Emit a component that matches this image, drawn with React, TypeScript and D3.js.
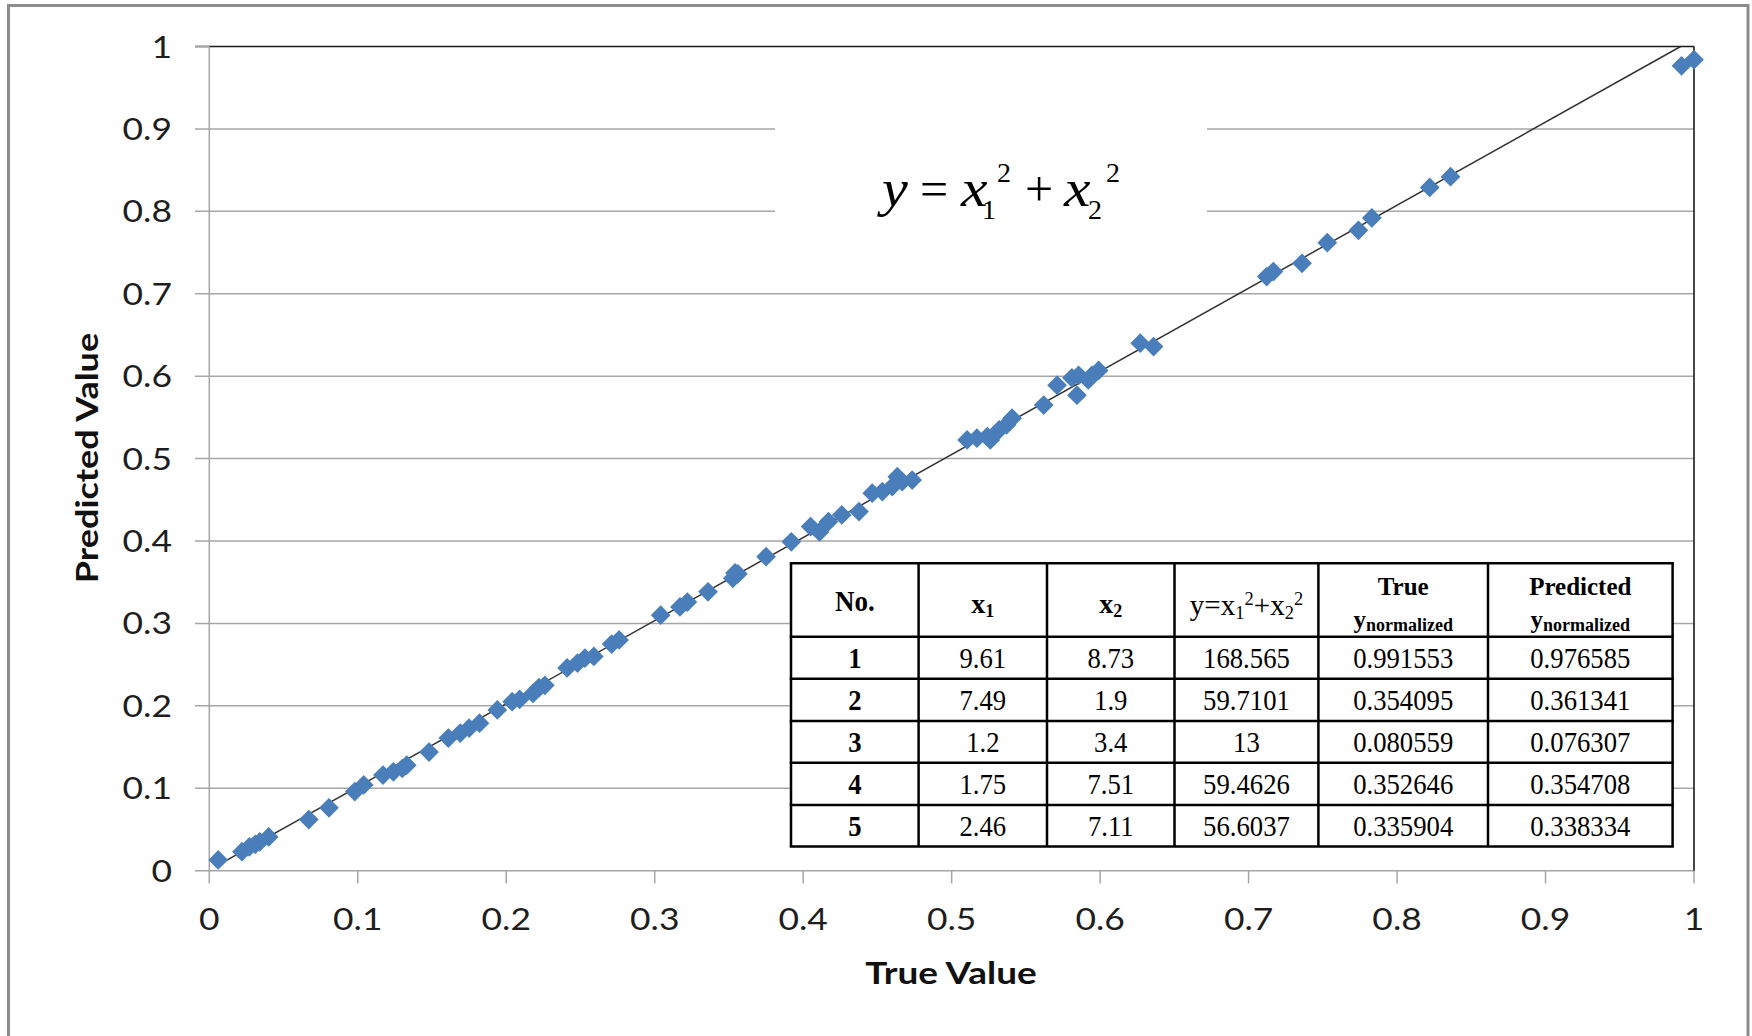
import React from "react";
import * as d3 from "d3";

// ---------- data ----------
const TRUE_VALUES = [
  0.006, 0.022, 0.027, 0.031, 0.034, 0.04, 0.067, 0.0806, 0.098, 0.104,
  0.117, 0.124, 0.13, 0.133, 0.148, 0.161, 0.169, 0.175, 0.182, 0.194,
  0.204, 0.209, 0.218, 0.222, 0.226, 0.241, 0.248, 0.253, 0.259, 0.271,
  0.276, 0.304, 0.317, 0.322, 0.3359, 0.3526, 0.3541, 0.356, 0.375, 0.392,
  0.405, 0.411, 0.417, 0.426, 0.4376, 0.4465, 0.4533, 0.46, 0.4634, 0.4667,
  0.4734, 0.5104, 0.517, 0.524, 0.526, 0.532, 0.537, 0.5407, 0.562, 0.571,
  0.581, 0.5855, 0.5844, 0.592, 0.5945, 0.599, 0.627, 0.636, 0.7122, 0.7167,
  0.736, 0.753, 0.774, 0.783, 0.822, 0.836, 0.9916, 1.0,
];
const PREDICTED_VALUES = [
  0.013, 0.023, 0.029, 0.032, 0.035, 0.041, 0.062, 0.0763, 0.096, 0.104,
  0.116, 0.12, 0.124, 0.128, 0.144, 0.161, 0.167, 0.173, 0.179, 0.195,
  0.205, 0.208, 0.215, 0.222, 0.225, 0.246, 0.252, 0.258, 0.26, 0.275,
  0.28, 0.31, 0.32, 0.326, 0.3383, 0.3547, 0.3613, 0.36, 0.381, 0.399,
  0.4175, 0.411, 0.4235, 0.4317, 0.4357, 0.458, 0.46, 0.466, 0.478, 0.472,
  0.474, 0.5227, 0.5247, 0.5267, 0.5227, 0.535, 0.541, 0.549, 0.565, 0.589,
  0.598, 0.601, 0.577, 0.5955, 0.601, 0.607, 0.64, 0.636, 0.7209, 0.727,
  0.737, 0.762, 0.777, 0.792, 0.829, 0.842, 0.9766, 0.984,
];
const TICK_VALUES = [0, 0.1, 0.2, 0.3, 0.4, 0.5, 0.6, 0.7, 0.8, 0.9, 1];
const TICK_LABELS = ["0", "0.1", "0.2", "0.3", "0.4", "0.5", "0.6", "0.7", "0.8", "0.9", "1"];
const FIT_LINE_X = [0.004, 0.991];
const FIT_LINE_Y = [0.005, 1.0];

const TABLE_NO = ["1", "2", "3", "4", "5"];
const TABLE_X1 = ["9.61", "7.49", "1.2", "1.75", "2.46"];
const TABLE_X2 = ["8.73", "1.9", "3.4", "7.51", "7.11"];
const TABLE_Y = ["168.565", "59.7101", "13", "59.4626", "56.6037"];
const TABLE_TRUE = ["0.991553", "0.354095", "0.080559", "0.352646", "0.335904"];
const TABLE_PRED = ["0.976585", "0.361341", "0.076307", "0.354708", "0.338334"];

// ---------- layout ----------
const W = 1752;
const H = 1036;
const xScale = d3.scaleLinear().domain([0, 1]).range([209.3, 1694]);
const yScale = d3.scaleLinear().domain([0, 1]).range([870.7, 46.5]);

const SANS = "Lato, 'Open Sans', sans-serif";
const SERIF = "'Liberation Serif', 'Times New Roman', serif";
const GRID = "#a6a6a6";
const BLUE = "#4A7EBB";

type ST = {
  x: number;
  y: number;
  sx?: number;
  anchor?: "start" | "middle" | "end";
  size: number;
  family: string;
  weight?: string | number;
  italic?: boolean;
  rotate?: number;
  fill?: string;
  children: React.ReactNode;
};
function SText({ x, y, sx = 1, anchor = "start", size, family, weight = "normal", italic = false, rotate = 0, fill = "#000", children }: ST) {
  return (
    <text
      transform={`translate(${x},${y}) rotate(${rotate}) scale(${sx},1)`}
      textAnchor={anchor}
      fontSize={size}
      fontFamily={family}
      fontWeight={weight}
      fontStyle={italic ? "italic" : "normal"}
      fill={fill}
    >
      {children}
    </text>
  );
}

export default function App() {
  const points = TRUE_VALUES.map((t, i) => [t, PREDICTED_VALUES[i]] as [number, number]);
  const diamond = d3.symbol().type(d3.symbolSquare).size(195)() as string;
  const fitLine = d3
    .line<[number, number]>()
    .x((d) => xScale(d[0]))
    .y((d) => yScale(d[1]))(FIT_LINE_X.map((v, i) => [v, FIT_LINE_Y[i]] as [number, number])) as string;

  const [x0, x1] = xScale.range();
  const [y0, y1] = yScale.range();

  // table geometry
  const colX = [791, 918.6, 1047, 1174.5, 1318.4, 1488, 1672.6];
  const rowY = [563.3, 636.7, 678.8, 721, 762.8, 805, 846.5];
  const cols = [TABLE_NO, TABLE_X1, TABLE_X2, TABLE_Y, TABLE_TRUE, TABLE_PRED];
  const colMid = (c: number) => (colX[c] + colX[c + 1]) / 2;

  const eqBase = 206;
  const eqSub = 218.5;
  const eqSup = 181.5;

  return (
    <svg
      width={W}
      height={H}
      viewBox={`0 0 ${W} ${H}`}
      style={{ position: "absolute", left: 0, top: 0, background: "#fff" }}
    >
      <rect x={0} y={0} width={W} height={H} fill="#fff" />
      {/* outer frame */}
      <rect x={8.5} y={5.5} width={1739.5} height={1060} fill="none" stroke="#8c8c8c" strokeWidth={3} />

      {/* horizontal gridlines + y ticks */}
      {TICK_VALUES.map((t, i) => (
        <g key={"gy" + i}>
          <line x1={195} x2={x1} y1={yScale(t)} y2={yScale(t)} stroke={t === 1 ? "#1a1a1a" : GRID} strokeWidth={t === 1 ? 1.6 : 1.5} />
          {t === 1 && <line x1={195} x2={x0} y1={yScale(t)} y2={yScale(t)} stroke={GRID} strokeWidth={1.5} />}
          <SText x={172} y={yScale(t) + 11} anchor="end" size={30} sx={1.18} family={SANS} fill="#1e1e1e">
            {TICK_LABELS[i]}
          </SText>
        </g>
      ))}
      {/* x ticks */}
      {TICK_VALUES.map((t, i) => (
        <g key={"gx" + i}>
          <line x1={xScale(t)} x2={xScale(t)} y1={y0} y2={883.5} stroke={GRID} strokeWidth={1.5} />
          <SText x={xScale(t)} y={930} anchor="middle" size={30} sx={1.18} family={SANS} fill="#1e1e1e">
            {TICK_LABELS[i]}
          </SText>
        </g>
      ))}
      {/* axes */}
      <line x1={x0} x2={x0} y1={y1} y2={y0} stroke={GRID} strokeWidth={1.5} />
      <line x1={x1} x2={x1} y1={y1} y2={y0} stroke="#1a1a1a" strokeWidth={1.6} />

      {/* fit line */}
      <path d={fitLine} fill="none" stroke="#333" strokeWidth={1.5} />

      {/* points */}
      {points.map((p, i) => (
        <path
          key={"p" + i}
          d={diamond}
          transform={`translate(${xScale(p[0])},${yScale(p[1])}) rotate(45)`}
          fill={BLUE}
        />
      ))}

      {/* axis titles */}
      <SText x={951} y={984} anchor="middle" size={30} sx={1.23} weight="bold" family={SANS} fill="#111">
        True Value
      </SText>
      <SText x={98} y={458} anchor="middle" size={30} sx={1.2} weight="bold" family={SANS} rotate={-90} fill="#111">
        Predicted Value
      </SText>

      {/* equation */}
      <rect x={775} y={80} width={432} height={180} fill="#fff" />
      <SText x={882} y={eqBase} size={52} sx={1.12} italic family={SERIF}>y</SText>
      <SText x={920} y={eqBase} size={50} family={SERIF}>=</SText>
      <SText x={961} y={eqBase} size={52} sx={1.15} italic family={SERIF}>x</SText>
      <SText x={982} y={eqSub} size={28} family={SERIF}>1</SText>
      <SText x={997} y={eqSup} size={28} family={SERIF}>2</SText>
      <SText x={1025} y={eqBase} size={50} family={SERIF}>+</SText>
      <SText x={1064} y={eqBase} size={52} sx={1.15} italic family={SERIF}>x</SText>
      <SText x={1088} y={eqSub} size={28} family={SERIF}>2</SText>
      <SText x={1106} y={eqSup} size={28} family={SERIF}>2</SText>

      {/* table */}
      <rect x={colX[0]} y={rowY[0]} width={colX[6] - colX[0]} height={rowY[6] - rowY[0]} fill="#fff" />
      {rowY.map((ry, i) => (
        <line key={"tr" + i} x1={colX[0] - 1.25} x2={colX[6] + 1.25} y1={ry} y2={ry} stroke="#000" strokeWidth={2.5} />
      ))}
      {colX.map((cx, i) => (
        <line key={"tc" + i} x1={cx} x2={cx} y1={rowY[0]} y2={rowY[6]} stroke="#000" strokeWidth={2.5} />
      ))}
      {/* header */}
      <SText x={colMid(0)} y={611} anchor="middle" size={30} sx={0.9} weight="bold" family={SERIF}>
        No.
      </SText>
      <text x={colMid(1)} y={613} textAnchor="middle" fontFamily={SERIF} fontSize={28} fontWeight="bold">
        x<tspan fontSize={18} dy={4}>1</tspan>
      </text>
      <text x={colMid(2)} y={613} textAnchor="middle" fontFamily={SERIF} fontSize={28} fontWeight="bold">
        x<tspan fontSize={18} dy={4}>2</tspan>
      </text>
      <g transform={`translate(${colMid(3)},615) scale(0.97,1)`}>
        <text x={0} y={0} textAnchor="middle" fontFamily={SERIF} fontSize={30}>
          y=x<tspan fontSize={19} dy={4}>1</tspan>
          <tspan fontSize={19} dy={-14}>2</tspan>
          <tspan dy={10}>+x</tspan>
          <tspan fontSize={19} dy={4}>2</tspan>
          <tspan fontSize={19} dy={-14}>2</tspan>
        </text>
      </g>
      {[4, 5].map((c) => (
        <g key={"hh" + c}>
          <text x={colMid(c)} y={595} textAnchor="middle" fontFamily={SERIF} fontSize={25} fontWeight="bold">
            {c === 4 ? "True" : "Predicted"}
          </text>
          <text x={colMid(c)} y={628} textAnchor="middle" fontFamily={SERIF} fontSize={25} fontWeight="bold">
            y<tspan fontSize={18} dy={3}>normalized</tspan>
          </text>
        </g>
      ))}
      {/* body */}
      {cols.map((col, c) =>
        col.map((v, r) => (
          <SText
            key={`c${c}r${r}`}
            x={colMid(c)}
            y={(rowY[r + 1] + rowY[r + 2]) / 2 + 10}
            anchor="middle"
            size={29}
            sx={0.92}
            weight={c === 0 ? "bold" : "normal"}
            family={SERIF}
          >
            {v}
          </SText>
        ))
      )}
    </svg>
  );
}
